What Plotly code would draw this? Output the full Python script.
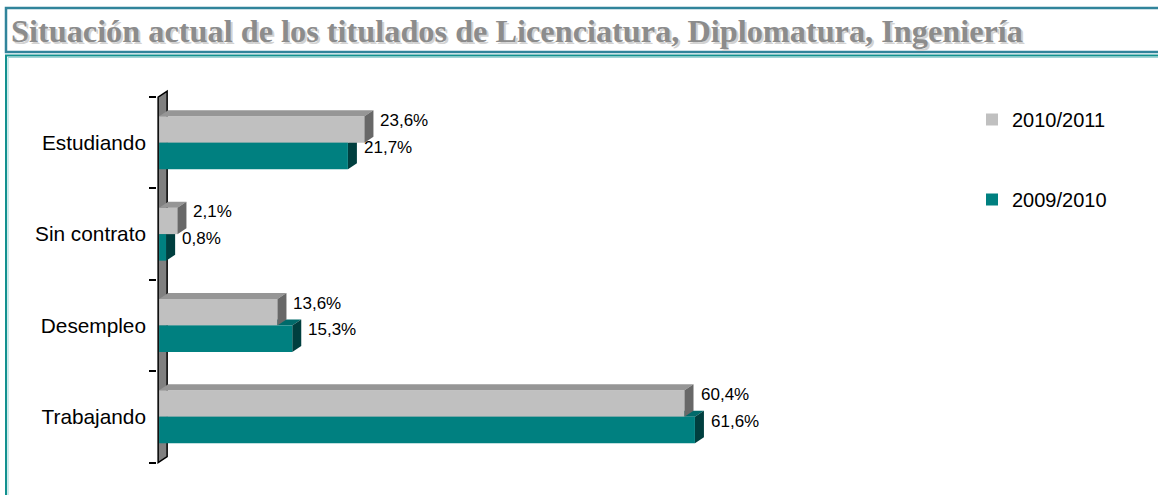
import plotly.graph_objects as go

# datos
categorias = ["Trabajando", "Desempleo", "Sin contrato", "Estudiando"]
serie_2010_2011 = [60.4, 13.6, 2.1, 23.6]
serie_2009_2010 = [61.6, 15.3, 0.8, 21.7]
etiquetas_2010_2011 = ["60,4%", "13,6%", "2,1%", "23,6%"]
etiquetas_2009_2010 = ["61,6%", "15,3%", "0,8%", "21,7%"]
nombres_series = ["2010/2011", "2009/2010"]

# layout / estilo
W_FIG, H_FIG = 1158, 495
M_L, M_R, M_T, M_B = 157, 390, 88, 27
X_RANGE = [-0.25, 70]
Y_RANGE = [-0.56, 3.6]
BAR_W = 0.29
DX_PX, DY_PX = 9, 6

plot_w = W_FIG - M_L - M_R
plot_h = H_FIG - M_T - M_B
DDX = DX_PX * (X_RANGE[1] - X_RANGE[0]) / plot_w
DDY = DY_PX * (Y_RANGE[1] - Y_RANGE[0]) / plot_h


def px2x(px):
    return (px - M_L) / plot_w


def py2y(py):
    return (H_FIG - M_B - py) / plot_h


colores = {
    "2010/2011": ("#C0C0C0", "#969696", "#686868"),
    "2009/2010": ("#008080", "#006a6a", "#003f3f"),
}

ypos = list(range(len(categorias)))

fig = go.Figure()

fig.add_trace(go.Bar(
    x=serie_2010_2011, y=ypos, orientation="h", name=nombres_series[0],
    width=BAR_W, offset=0, legendgroup="a",
    marker=dict(color=colores["2010/2011"][0], line=dict(width=0)),
))
fig.add_trace(go.Bar(
    x=serie_2009_2010, y=ypos, orientation="h", name=nombres_series[1],
    width=BAR_W, offset=-BAR_W, legendgroup="b",
    marker=dict(color=colores["2009/2010"][0], line=dict(width=0)),
))

shapes = []

# pared lateral del grafico 3D
x_w = -0.12
shapes.append(dict(
    type="path", xref="x", yref="y", layer="below",
    path=f"M{x_w},-0.5 L{x_w},3.5 L{x_w + DDX},{3.5 + DDY} L{x_w + DDX},{-0.5 + DDY} Z",
    fillcolor="#808080", line=dict(color="black", width=1.5),
))


def caras(v, y0, y1, c_top, c_side, layer):
    top = f"M0,{y1} L{v},{y1} L{v + DDX},{y1 + DDY} L{DDX},{y1 + DDY} Z"
    side = f"M{v},{y0} L{v},{y1} L{v + DDX},{y1 + DDY} L{v + DDX},{y0 + DDY} Z"
    return [
        dict(type="path", xref="x", yref="y", layer=layer, path=top,
             fillcolor=c_top, line=dict(width=0)),
        dict(type="path", xref="x", yref="y", layer=layer, path=side,
             fillcolor=c_side, line=dict(width=0)),
    ]


for c, v in zip(ypos, serie_2009_2010):
    _, ct, cs = colores["2009/2010"]
    shapes += caras(v, c - BAR_W, c, ct, cs, "below")
for c, v in zip(ypos, serie_2010_2011):
    _, ct, cs = colores["2010/2011"]
    shapes += caras(v, c, c + BAR_W, ct, cs, "above")

# marcos de la pagina
shapes.append(dict(type="rect", xref="paper", yref="paper",
                   x0=px2x(6), x1=px2x(1175), y0=py2y(52), y1=py2y(8),
                   line=dict(color="#31849B", width=2.5), layer="above"))
shapes.append(dict(type="rect", xref="paper", yref="paper",
                   x0=px2x(6), x1=px2x(1175), y0=py2y(530), y1=py2y(55.5),
                   line=dict(color="#12918f", width=2), layer="above"))
shapes.append(dict(type="rect", xref="paper", yref="paper",
                   x0=px2x(8), x1=px2x(1175), y0=py2y(530), y1=py2y(57.5),
                   line=dict(color="#9fd6d6", width=1), layer="above"))

annotations = []
titulo = "Situación actual de los titulados de Licenciatura, Diplomatura, Ingeniería"
for color, sx, sy in [("#d2d2d2", 2, -2), ("#8c8c8c", 0, 0)]:
    annotations.append(dict(
        text=f"<b>{titulo}</b>", xref="paper", yref="paper",
        x=px2x(9), y=py2y(31), xanchor="left", yanchor="middle",
        xshift=sx, yshift=sy, showarrow=False,
        font=dict(family="Liberation Serif, Times New Roman, serif", size=32.3, color=color),
    ))

for c, v, t in zip(ypos, serie_2010_2011, etiquetas_2010_2011):
    annotations.append(dict(
        text=t, x=v, y=c + BAR_W / 2, xref="x", yref="y", xanchor="left",
        yanchor="middle", xshift=DX_PX + 5, yshift=9, showarrow=False,
        font=dict(size=17, color="black"),
    ))
for c, v, t in zip(ypos, serie_2009_2010, etiquetas_2009_2010):
    annotations.append(dict(
        text=t, x=v, y=c - BAR_W / 2, xref="x", yref="y", xanchor="left",
        yanchor="middle", xshift=DX_PX + 5, yshift=9, showarrow=False,
        font=dict(size=17, color="black"),
    ))

fig.update_layout(
    width=W_FIG, height=H_FIG,
    margin=dict(l=M_L, r=M_R, t=M_T, b=M_B),
    paper_bgcolor="white", plot_bgcolor="rgba(0,0,0,0)",
    font=dict(family="Liberation Sans, Arial, sans-serif", color="black"),
    barmode="overlay",
    showlegend=True,
    legend=dict(
        x=px2x(972), y=py2y(100), xanchor="left", yanchor="top",
        xref="paper", yref="paper",
        traceorder="grouped", tracegroupgap=51,
        font=dict(size=20), bgcolor="rgba(0,0,0,0)",
    ),
    xaxis=dict(range=X_RANGE, visible=False),
    yaxis=dict(
        range=Y_RANGE, tickmode="array", tickvals=ypos, ticktext=categorias,
        ticks="", showgrid=False, zeroline=False, showline=False,
        tickfont=dict(size=20.8), ticklabelstandoff=10,
        minor=dict(tickmode="array", tickvals=[-0.5, 0.5, 1.5, 2.5, 3.5],
                   ticks="outside", ticklen=7, tickwidth=1.5, tickcolor="black",
                   showgrid=False),
    ),
    shapes=shapes,
    annotations=annotations,
)

fig.write_html("out.html", config={"displayModeBar": False},
               post_script="document.body.style.margin='0px';")
